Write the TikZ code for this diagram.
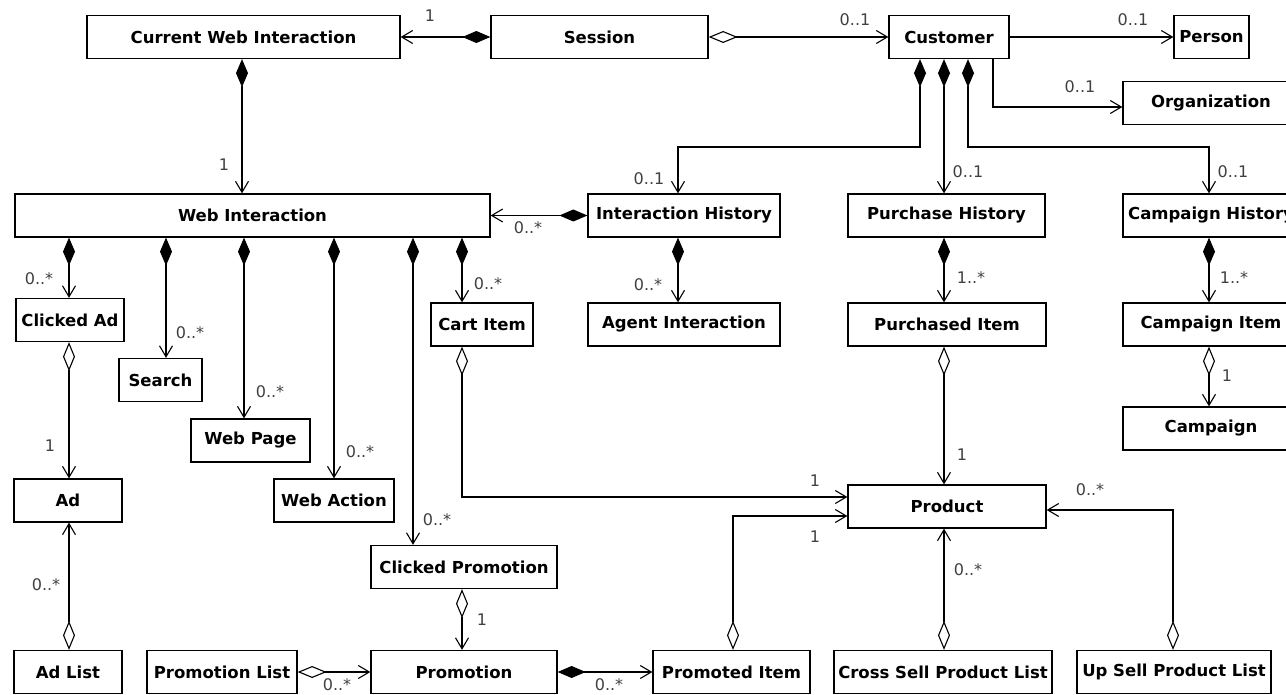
\documentclass[tikz,border=0pt]{standalone}
\usepackage{fontspec}
\setmainfont{DejaVu Sans}
\usetikzlibrary{arrows.meta}
\begin{document}
\begin{tikzpicture}[x=1pt,y=-1pt,
  cls/.style={draw, line width=1.3pt, fill=white, inner sep=0pt,
    minimum height=43pt, font=\fontsize{16.5}{18}\selectfont\bfseries},
  link/.style={line width=1.1pt},
  comp/.style={link, {Diamond[length=28pt,width=12pt]}-{Straight Barb[length=11pt,width=13pt]}},
  agg/.style={link, {Diamond[open,length=29pt,width=12pt]}-{Straight Barb[length=11pt,width=13pt]}},
  assoc/.style={link, -{Straight Barb[length=11pt,width=13pt]}},
  mult/.style={font=\fontsize{16}{18}\selectfont, text=black!75, inner sep=0pt},
]
\clip (0,0) rectangle (1286,695);
\fill[white] (0,0) rectangle (1286,695);

% ---- classes ----
\node[cls, minimum width=313pt] (cwi)      at (243.5,37)  {Current Web Interaction};
\node[cls, minimum width=217pt] (session)  at (599.5,37)  {Session};
\node[cls, minimum width=120pt] (customer) at (949,37)    {Customer};
\node[cls, minimum width=75pt]  (person)   at (1211.5,37) {Person};
\node[cls, minimum width=176pt] (organization) at (1211,103) {Organization};

\node[cls, minimum width=475pt] (webint)   at (252.5,215.5) {Web Interaction};
\node[cls, minimum width=192pt] (ihist)    at (684,215.5)   {Interaction History};
\node[cls, minimum width=197pt] (phist)    at (946.5,215.5) {Purchase History};
\node[cls, minimum width=176pt] (chist)    at (1211,215.5)  {Campaign History};

\node[cls, minimum width=108pt] (clickedad) at (70,320)     {Clicked Ad};
\node[cls, minimum width=83pt]  (search)    at (160.5,380)  {Search};
\node[cls, minimum width=119pt] (webpage)   at (250.5,440.5) {Web Page};
\node[cls, minimum width=102pt] (cartitem)  at (482,324.5)  {Cart Item};
\node[cls, minimum width=192pt] (agent)     at (684,324.5)  {Agent Interaction};
\node[cls, minimum width=198pt] (purchased) at (947,324.5)  {Purchased Item};
\node[cls, minimum width=176pt] (citem)     at (1211,324.5) {Campaign Item};
\node[cls, minimum width=176pt] (campaign)  at (1211,428.5) {Campaign};

\node[cls, minimum width=108pt] (ad)        at (68,500.5)   {Ad};
\node[cls, minimum width=120pt] (webaction) at (334,500.5)  {Web Action};
\node[cls, minimum width=198pt] (product)   at (947,506.5)  {Product};
\node[cls, minimum width=186pt] (clickedpromo) at (464,567) {Clicked Promotion};

\node[cls, minimum width=108pt] (adlist)    at (68,672)     {Ad List};
\node[cls, minimum width=150pt] (promolist) at (222,672)    {Promotion List};
\node[cls, minimum width=186pt] (promotion) at (464,672)    {Promotion};
\node[cls, minimum width=157pt] (promoted)  at (731.5,672)  {Promoted Item};
\node[cls, minimum width=218pt] (crosssell) at (943,672)    {Cross Sell Product List};
\node[cls, minimum width=194pt] (upsell)    at (1174,672)   {Up Sell Product List};

% ---- routing points ----
\coordinate (xCW)  at (242,0);
\coordinate (xCA)  at (69,0);
\coordinate (xSe)  at (166,0);
\coordinate (xWP)  at (244,0);
\coordinate (xWA)  at (334,0);
\coordinate (xCP)  at (413,0);
\coordinate (xCart) at (462,0);
\coordinate (xIH)  at (678,0);
\coordinate (xPH)  at (944,0);
\coordinate (xCH)  at (1209,0);
\coordinate (k1)   at (920,147);
\coordinate (k3)   at (968,147);
\coordinate (oJ)   at (993,107);
\coordinate (cJ)   at (462,497);
\coordinate (pJ)   at (733,516);
\coordinate (uJ)   at (1173,510);

% ---- top row ----
\draw[comp] (session.west) -- (cwi.east);
\draw[agg]  (session.east) -- (customer.west);
\draw[assoc] (customer.east) -- (person.west);
\draw[assoc] (customer.south -| oJ) -- (oJ) -- (organization.west |- oJ);

% ---- customer histories ----
\draw[comp] (customer.south -| k1) -- (k1) -| (ihist.north -| xIH);
\draw[comp] (customer.south -| xPH) -- (phist.north -| xPH);
\draw[comp] (customer.south -| k3) -- (k3) -| (chist.north -| xCH);

% ---- web interaction ----
\draw[comp] (cwi.south -| xCW) -- (webint.north -| xCW);
\draw[comp] (ihist.west) -- (webint.east);
\draw[comp] (webint.south -| xCA)   -- (clickedad.north -| xCA);
\draw[comp] (webint.south -| xSe)   -- (search.north -| xSe);
\draw[comp] (webint.south -| xWP)   -- (webpage.north -| xWP);
\draw[comp] (webint.south -| xWA)   -- (webaction.north -| xWA);
\draw[comp] (webint.south -| xCP)   -- (clickedpromo.north -| xCP);
\draw[comp] (webint.south -| xCart) -- (cartitem.north -| xCart);

% ---- items ----
\draw[comp] (ihist.south -| xIH) -- (agent.north -| xIH);
\draw[comp] (phist.south -| xPH) -- (purchased.north -| xPH);
\draw[comp] (chist.south -| xCH) -- (citem.north -| xCH);
\draw[agg]  (citem.south -| xCH) -- (campaign.north -| xCH);
\draw[agg]  (clickedad.south -| xCA) -- (ad.north -| xCA);
\draw[agg]  (adlist.north -| xCA) -- (ad.south -| xCA);

% ---- product ----
\draw[agg] (purchased.south -| xPH) -- (product.north -| xPH);
\draw[agg] (cartitem.south -| cJ) -- (cJ) -- (product.west |- cJ);
\draw[agg] (promoted.north -| pJ) -- (pJ) -- (product.west |- pJ);
\draw[agg] (crosssell.north -| xPH) -- (product.south -| xPH);
\draw[agg] (upsell.north -| uJ) -- (uJ) -- (product.east |- uJ);

% ---- promotions ----
\draw[agg]  (clickedpromo.south -| xCart) -- (promotion.north -| xCart);
\draw[agg]  (promolist.east) -- (promotion.west);
\draw[comp] (promotion.east) -- (promoted.west);

% ---- multiplicities ----
\node[mult] (m1)  at (430,16)   {1};
\node[mult] (m2)  at (855,20)   {0..1};
\node[mult] (m3)  at (1133,20)  {0..1};
\node[mult] (m4)  at (1080,87)  {0..1};
\node[mult] (m5)  at (649,179)  {0..1};
\node[mult] (m6)  at (968,172)  {0..1};
\node[mult] (m7)  at (1233,172) {0..1};
\node[mult] (m8)  at (224,165)  {1};
\node[mult] (m9)  at (528,228)  {0..*};
\node[mult] (m10) at (39,279)   {0..*};
\node[mult] (m11) at (190,333)  {0..*};
\node[mult] (m12) at (270,392)  {0..*};
\node[mult] (m13) at (360,452)  {0..*};
\node[mult] (m14) at (437,520)  {0..*};
\node[mult] (m15) at (488,284)  {0..*};
\node[mult] (m16) at (648,285)  {0..*};
\node[mult] (m17) at (971,278)  {1..*};
\node[mult] (m18) at (1234,278) {1..*};
\node[mult] (m19) at (1227,376) {1};
\node[mult] (m20) at (50,446)   {1};
\node[mult] (m21) at (46,585)   {0..*};
\node[mult] (m22) at (962,455)  {1};
\node[mult] (m23) at (815,481)  {1};
\node[mult] (m24) at (815,537)  {1};
\node[mult] (m25) at (968,570)  {0..*};
\node[mult] (m26) at (1090,490) {0..*};
\node[mult] (m27) at (482,620)  {1};
\node[mult] (m28) at (337,685)  {0..*};
\node[mult] (m29) at (609,685)  {0..*};
\end{tikzpicture}
\end{document}
